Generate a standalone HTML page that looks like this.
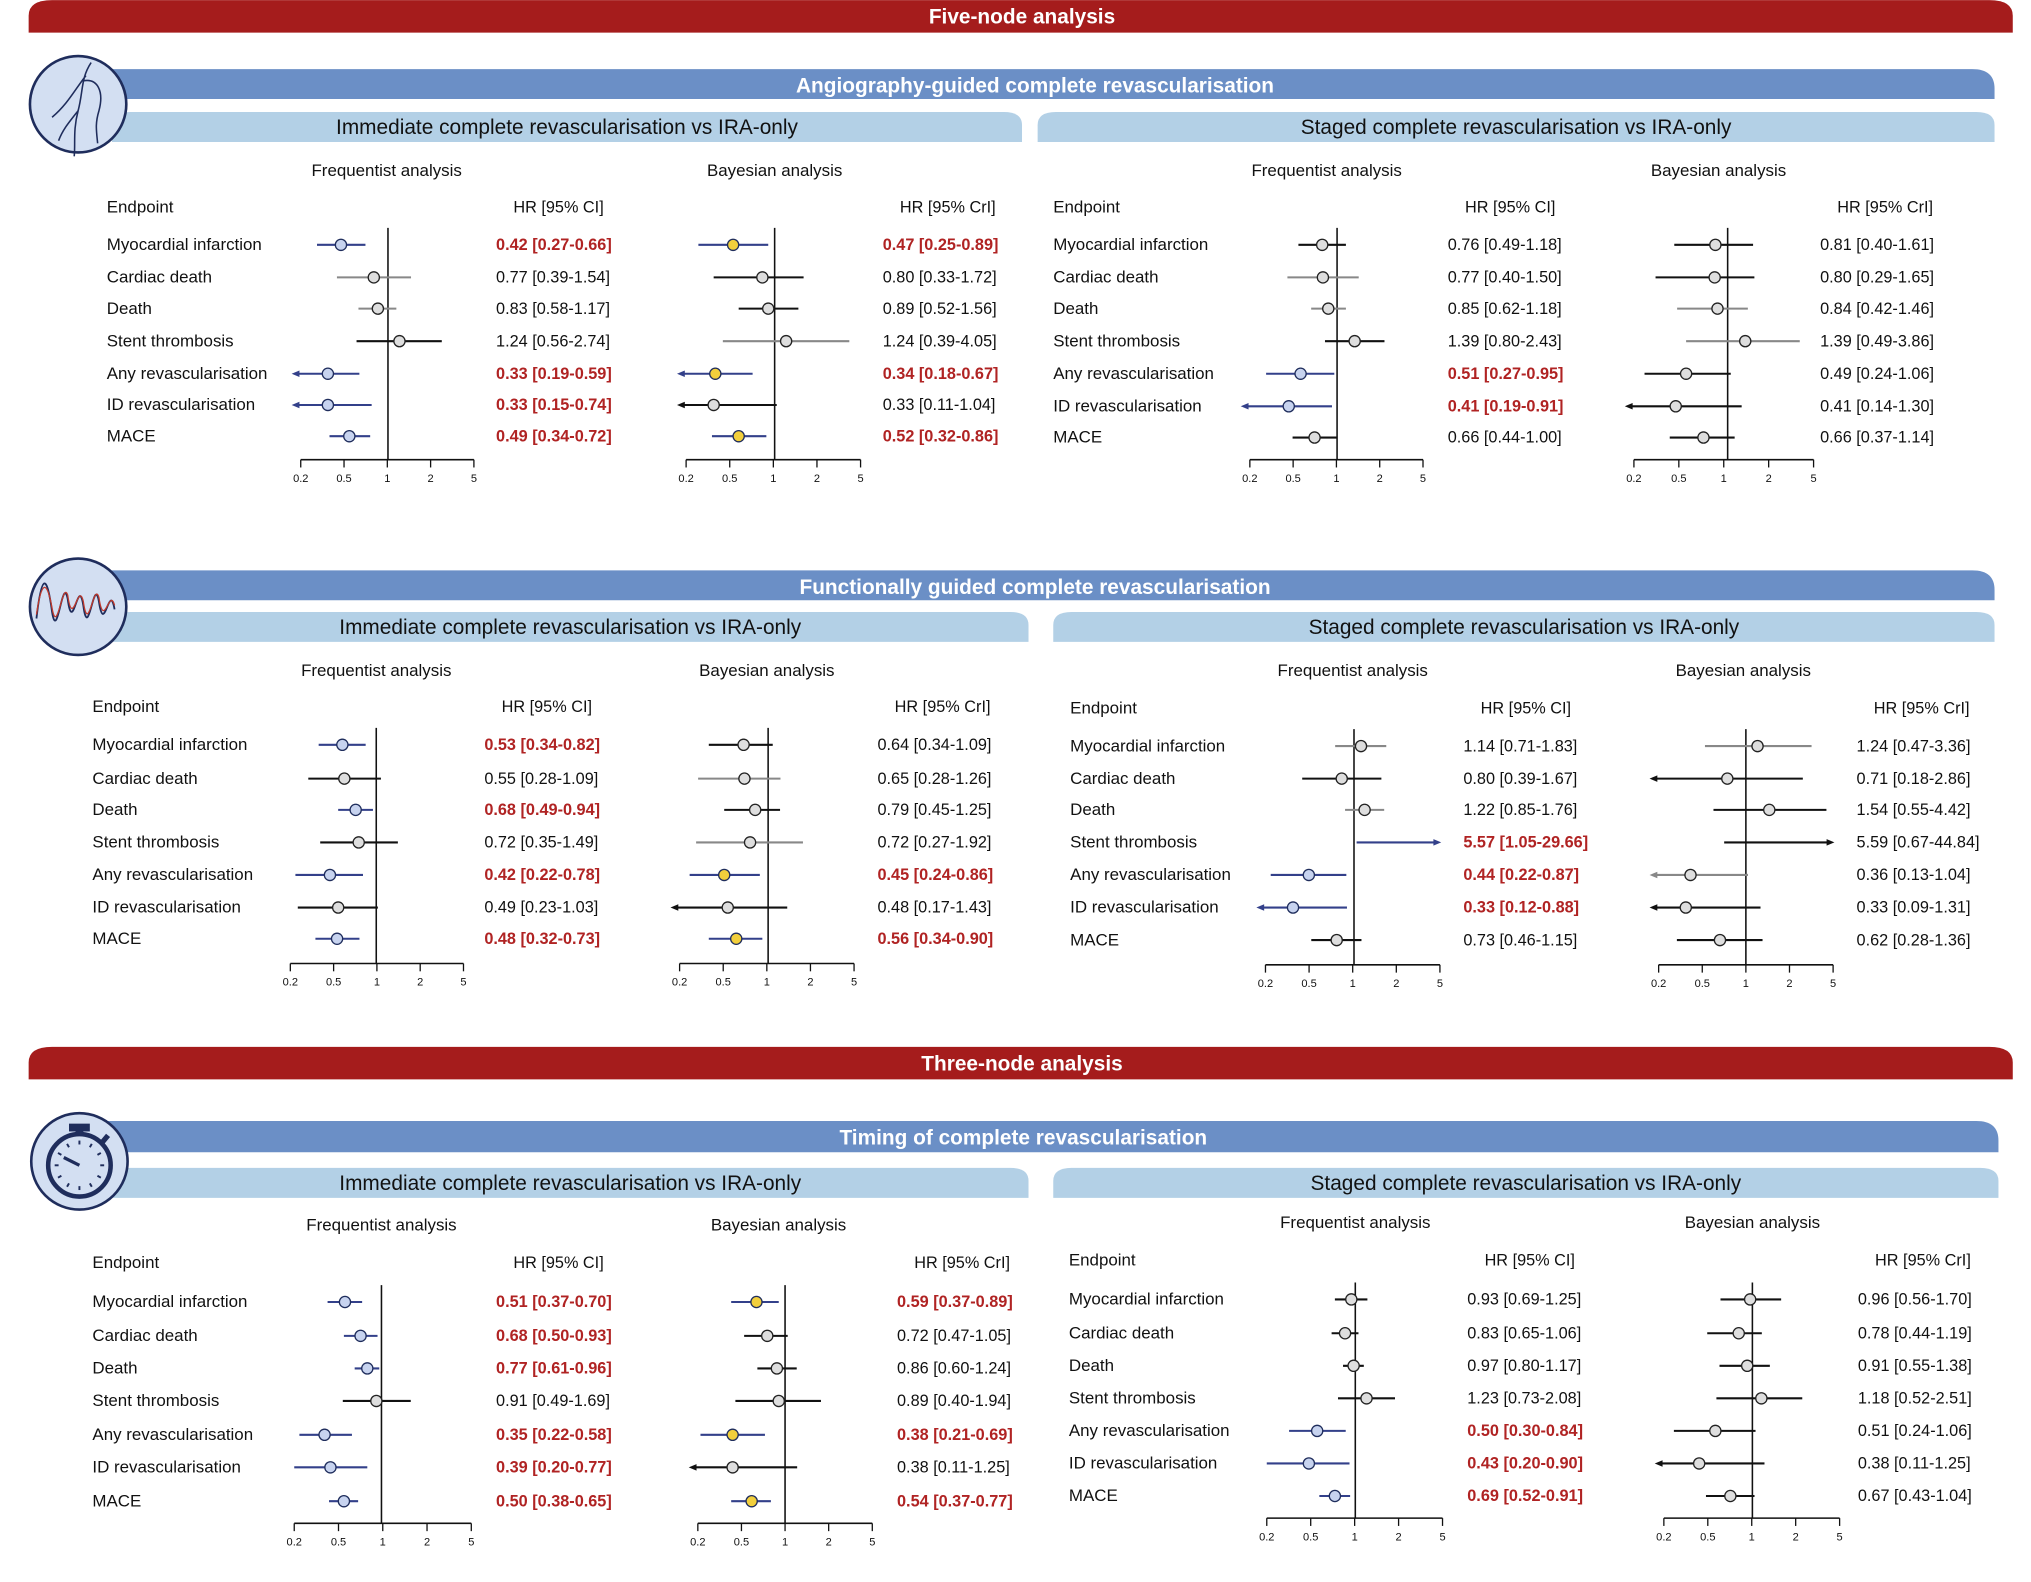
<!DOCTYPE html>
<html><head><meta charset="utf-8">
<style>
html,body{margin:0;padding:0;background:#fff;width:2031px;height:1582px;overflow:hidden}
svg{display:block}
text{font-family:"Liberation Sans",Arial,sans-serif}
</style></head>
<body>
<svg id="s" width="2031" height="1582" viewBox="0 0 1560 1215" xmlns="http://www.w3.org/2000/svg">
<path d="M22,25 L22,12 Q22,0 40,0 L1528,0 Q1546,0 1546,12 L1546,25 Z" fill="#a51c1c"/>
<text x="785" y="18" text-anchor="middle" font-size="16" font-weight="bold" fill="#fff">Five-node analysis</text>
<path d="M22,829 L22,816 Q22,804 40,804 L1528,804 Q1546,804 1546,816 L1546,829 Z" fill="#a51c1c"/>
<text x="785" y="822" text-anchor="middle" font-size="16" font-weight="bold" fill="#fff">Three-node analysis</text>

<path d="M75,76 L75,53 L1515,53 Q1532,53 1532,68 L1532,76 Z" fill="#6b8fc6"/>
<text x="795" y="71" text-anchor="middle" font-size="16" font-weight="bold" fill="#fff">Angiography-guided complete revascularisation</text>
<path d="M75,461 L75,438 L1515,438 Q1532,438 1532,453 L1532,461 Z" fill="#6b8fc6"/>
<text x="795" y="456" text-anchor="middle" font-size="16" font-weight="bold" fill="#fff">Functionally guided complete revascularisation</text>
<path d="M75,885 L75,861 L1518,861 Q1535,861 1535,876 L1535,885 Z" fill="#6b8fc6"/>
<text x="786" y="879" text-anchor="middle" font-size="16" font-weight="bold" fill="#fff">Timing of complete revascularisation</text>

<g id="g"></g>
</svg>
<script>
var NS="http://www.w3.org/2000/svg",G=document.getElementById("g");
function el(t,a,txt){var e=document.createElementNS(NS,t);for(var k in a)e.setAttribute(k,a[k]);if(txt!=null)e.textContent=txt;G.appendChild(e);return e;}
function lightbar(x1,x2,y,label){
  el("path",{d:"M"+x1+","+(y+23)+" L"+x1+","+(y+10)+" Q"+x1+","+y+" "+(x1+14)+","+y+" L"+(x2-14)+","+y+" Q"+x2+","+y+" "+x2+","+(y+10)+" L"+x2+","+(y+23)+" Z",fill:"#b3d0e6"});
  el("text",{x:(x1+x2)/2,y:y+17,"text-anchor":"middle","font-size":16,fill:"#111"},label);
}
lightbar(86,785,86,"Immediate complete revascularisation vs IRA-only");
lightbar(797,1532,86,"Staged complete revascularisation vs IRA-only");
lightbar(86,790,470,"Immediate complete revascularisation vs IRA-only");
lightbar(809,1532,470,"Staged complete revascularisation vs IRA-only");
lightbar(86,790,897,"Immediate complete revascularisation vs IRA-only");
lightbar(809,1535,897,"Staged complete revascularisation vs IRA-only");

function icon(cx,cy){el("circle",{cx:cx,cy:cy,r:37,fill:"#d3dff2",stroke:"#1f2d5c","stroke-width":2});}
icon(60,80);icon(60,466);icon(61,892);
el("path",{d:"M70,48 C62,60 64,70 60,85 C56,100 58,110 57,120 M64,62 C75,60 80,70 76,85 C73,95 74,100 75,110 M60,85 C52,95 48,100 45,108 M66,58 C58,68 52,80 40,90",fill:"none",stroke:"#1f2d5c","stroke-width":1.2});
el("path",{d:"M28,475 C32,440 36,440 40,470 C44,495 48,440 52,460 C56,490 60,440 64,465 C68,495 72,440 76,462 C80,490 84,445 88,468",fill:"none",stroke:"#1f2d5c","stroke-width":1.4});
el("path",{d:"M28,472 C32,445 36,445 40,467 C44,490 48,445 52,457 C56,485 60,445 64,462 C68,490 72,445 76,459 C80,485 84,450 88,465",fill:"none",stroke:"#c0392b","stroke-width":1});
// stopwatch
var cx=79/1.302*1.302, sx=61, sy=895;
el("circle",{cx:sx,cy:sy,r:24,fill:"none",stroke:"#1f2d5c","stroke-width":3.5});
el("rect",{x:sx-8,y:863,width:16,height:6,fill:"#1f2d5c"});
el("rect",{x:sx-3,y:868,width:6,height:4,fill:"#1f2d5c"});
el("line",{x1:sx+17,y1:sy-17,x2:sx+22,y2:sy-23,stroke:"#1f2d5c","stroke-width":4});
el("line",{x1:sx,y1:sy,x2:sx-12,y2:sy-6,stroke:"#1f2d5c","stroke-width":2.5});
for(var i=0;i<12;i++){var a=i*Math.PI/6;el("line",{x1:sx+16*Math.cos(a),y1:sy+16*Math.sin(a),x2:sx+19*Math.cos(a),y2:sy+19*Math.sin(a),stroke:"#1f2d5c","stroke-width":1.5});}

var names=["Myocardial infarction","Cardiac death","Death","Stent thrombosis","Any revascularisation","ID revascularisation","MACE"];
function panel(P){
  el("text",{x:P.ex,y:P.hy,"font-size":13,fill:"#111"},"Endpoint");
  el("text",{x:P.fc,y:P.sy,"text-anchor":"middle","font-size":13,fill:"#111"},"Frequentist analysis");
  el("text",{x:P.bc,y:P.sy,"text-anchor":"middle","font-size":13,fill:"#111"},"Bayesian analysis");
  for(var i=0;i<7;i++) el("text",{x:P.ex,y:P.rows[i]+4,"font-size":13,fill:"#111"},names[i]);
  forest(P,P.fa,P.fd,P.fh,"HR [95% CI]",false);
  forest(P,P.ba,P.bd,P.bh,"HR [95% CrI]",true);
}
function forest(P,ax,data,hx,head,bayes){
  var x02=ax[0],x1=ax[1],x5=ax[2],L=Math.log(5);
  function X(v){var l=Math.log(v)/L;return l>=0?x1+l*(x5-x1):x1+l*(x1-x02);}
  el("text",{x:hx+(bayes?50:48),y:P.hy,"text-anchor":"middle","font-size":12.5,fill:"#111"},head);
  var top=P.rows[0]-13;
  el("line",{x1:x1,y1:top,x2:x1,y2:P.axy,stroke:"#111","stroke-width":1.2});
  el("line",{x1:x02,y1:P.axy,x2:x5,y2:P.axy,stroke:"#111","stroke-width":1.2});
  var tl=["0.2","0.5","1","2","5"];
  for(var t=0;t<5;t++){var tx=x02+t*(x5-x02)/4;el("line",{x1:tx,y1:P.axy,x2:tx,y2:P.axy+6,stroke:"#111","stroke-width":1});
    el("text",{x:tx,y:P.axy+17,"text-anchor":"middle","font-size":8.5,fill:"#111"},tl[t]);}
  for(var i=0;i<7;i++){
    var d=data[i],y=P.rows[i],est=d[0],lo=d[1],hi=d[2],sig=d[3];
    var col=sig?"#33408a":(d[4]?"#888":"#111");
    var la=lo<0.2,ra=hi>5;
    var xl=la?X(0.2)-4:X(lo),xr=ra?X(5)-2:X(hi);
    el("line",{x1:xl,y1:y,x2:xr,y2:y,stroke:col,"stroke-width":1.6});
    if(la) el("path",{d:"M"+(xl-3)+","+y+" L"+(xl+3)+","+(y-2.5)+" L"+(xl+3)+","+(y+2.5)+"Z",fill:col});
    if(ra) el("path",{d:"M"+(xr+3)+","+y+" L"+(xr-3)+","+(y-2.5)+" L"+(xr-3)+","+(y+2.5)+"Z",fill:col});
    if(est<=5){var fill=sig?(bayes?"#f2cf3c":"#c7d3ef"):"#dedede";
      el("circle",{cx:X(est),cy:y,r:4.3,fill:fill,stroke:sig?"#1f2d5c":"#222","stroke-width":1});}
    var s=est.toFixed(2)+" ["+lo.toFixed(2)+"-"+hi.toFixed(2)+"]";
    el("text",{x:hx,y:y+4,"font-size":12.5,fill:sig?"#b02323":"#111","font-weight":sig?"bold":"normal"},s);
  }
}
panel({ex:82,hy:163,sy:135,fc:297,bc:595,rows:[188,213,237,262,287,311,335],axy:353,
 fa:[231,298,364],fh:381,fd:[[0.42,0.27,0.66,1],[0.77,0.39,1.54,0,1],[0.83,0.58,1.17,0,1],[1.24,0.56,2.74,0],[0.33,0.19,0.59,1],[0.33,0.15,0.74,1],[0.49,0.34,0.72,1]],
 ba:[527,595,661],bh:678,bd:[[0.47,0.25,0.89,1],[0.80,0.33,1.72,0],[0.89,0.52,1.56,0],[1.24,0.39,4.05,0,1],[0.34,0.18,0.67,1],[0.33,0.11,1.04,0],[0.52,0.32,0.86,1]]});
panel({ex:809,hy:163,sy:135,fc:1019,bc:1320,rows:[188,213,237,262,287,312,336],axy:353,
 fa:[960,1027,1093],fh:1112,fd:[[0.76,0.49,1.18,0],[0.77,0.40,1.50,0,1],[0.85,0.62,1.18,0,1],[1.39,0.80,2.43,0],[0.51,0.27,0.95,1],[0.41,0.19,0.91,1],[0.66,0.44,1.00,0]],
 ba:[1255,1327,1393],bh:1398,bd:[[0.81,0.40,1.61,0],[0.80,0.29,1.65,0],[0.84,0.42,1.46,0,1],[1.39,0.49,3.86,0,1],[0.49,0.24,1.06,0],[0.41,0.14,1.30,0],[0.66,0.37,1.14,0]]});
panel({ex:71,hy:547,sy:519,fc:289,bc:589,rows:[572,598,622,647,672,697,721],axy:740,
 fa:[223,289,356],fh:372,fd:[[0.53,0.34,0.82,1],[0.55,0.28,1.09,0],[0.68,0.49,0.94,1],[0.72,0.35,1.49,0],[0.42,0.22,0.78,1],[0.49,0.23,1.03,0],[0.48,0.32,0.73,1]],
 ba:[522,590,656],bh:674,bd:[[0.64,0.34,1.09,0],[0.65,0.28,1.26,0,1],[0.79,0.45,1.25,0],[0.72,0.27,1.92,0,1],[0.45,0.24,0.86,1],[0.48,0.17,1.43,0],[0.56,0.34,0.90,1]]});
panel({ex:822,hy:548,sy:519,fc:1039,bc:1339,rows:[573,598,622,647,672,697,722],axy:741,
 fa:[972,1040,1106],fh:1124,fd:[[1.14,0.71,1.83,0,1],[0.80,0.39,1.67,0],[1.22,0.85,1.76,0,1],[5.57,1.05,29.66,1],[0.44,0.22,0.87,1],[0.33,0.12,0.88,1],[0.73,0.46,1.15,0]],
 ba:[1274,1341,1408],bh:1426,bd:[[1.24,0.47,3.36,0,1],[0.71,0.18,2.86,0],[1.54,0.55,4.42,0],[5.59,0.67,44.84,0],[0.36,0.13,1.04,0,1],[0.33,0.09,1.31,0],[0.62,0.28,1.36,0]]});
panel({ex:71,hy:974,sy:945,fc:293,bc:598,rows:[1000,1026,1051,1076,1102,1127,1153],axy:1170,
 fa:[226,293,362],fh:381,fd:[[0.51,0.37,0.70,1],[0.68,0.50,0.93,1],[0.77,0.61,0.96,1],[0.91,0.49,1.69,0],[0.35,0.22,0.58,1],[0.39,0.20,0.77,1],[0.50,0.38,0.65,1]],
 ba:[536,603,670],bh:689,bd:[[0.59,0.37,0.89,1],[0.72,0.47,1.05,0],[0.86,0.60,1.24,0],[0.89,0.40,1.94,0],[0.38,0.21,0.69,1],[0.38,0.11,1.25,0],[0.54,0.37,0.77,1]]});
panel({ex:821,hy:972,sy:943,fc:1041,bc:1346,rows:[998,1024,1049,1074,1099,1124,1149],axy:1166,
 fa:[973,1041,1108],fh:1127,fd:[[0.93,0.69,1.25,0],[0.83,0.65,1.06,0],[0.97,0.80,1.17,0],[1.23,0.73,2.08,0],[0.50,0.30,0.84,1],[0.43,0.20,0.90,1],[0.69,0.52,0.91,1]],
 ba:[1278,1346,1413],bh:1427,bd:[[0.96,0.56,1.70,0],[0.78,0.44,1.19,0],[0.91,0.55,1.38,0],[1.18,0.52,2.51,0],[0.51,0.24,1.06,0],[0.38,0.11,1.25,0],[0.67,0.43,1.04,0]]});
</script>
</body></html>
